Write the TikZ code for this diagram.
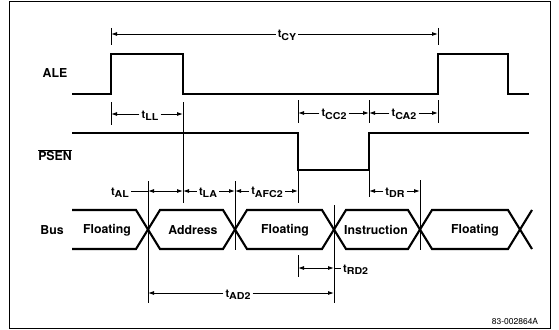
\documentclass[tikz,border=0pt]{standalone}
\usepackage{fontspec}
\usepackage{graphicx}
\setmainfont{TeX Gyre Heros}
\usetikzlibrary{arrows.meta}
\newcommand\tsub[1]{{\fontsize{11}{12}\selectfont t}\raisebox{-2.4pt}{\fontsize{9.5}{10}\selectfont\scalebox{1.12}[1]{#1}}}
\begin{document}
\begin{tikzpicture}[x=1pt,y=-1pt,
  sig/.style={line width=2.1pt, line join=miter},
  thinl/.style={line width=0.9pt},
  arr/.style={line width=0.9pt,-{Latex[length=6pt,width=4pt]}},
  dim/.style={line width=0.9pt,{Latex[length=6pt,width=4pt]}-{Latex[length=6pt,width=4pt]}},
  lbl/.style={font=\fontsize{12.3}{14}\selectfont\bfseries, inner sep=0pt},
  tl/.style={font=\bfseries, inner xsep=2pt, inner ysep=1pt, yshift=-1.5pt},
]
\useasboundingbox (0,0) rectangle (559,329);
\draw[line width=0.8pt] (9,1) rectangle (550,328);

% signal names
\node[lbl] (ale) at (55,73) {ALE};
\node[lbl] (psen) at (55,155) {$\overline{\mbox{PSEN}}$};
\node[lbl] (bus) at (52,230) {Bus};

% ALE and PSEN waveforms
\draw[sig] (72,94) -- (111,94) -- (111,54) -- (183,54) -- (183,94) -- (438,94) -- (438,54) -- (508,54) -- (508,94) -- (529,94);
\draw[sig] (72,133) -- (298,133) -- (298,170) -- (369,170) -- (369,133) -- (529,133);

% Bus
\draw[sig] (72,210) -- (136,210) -- (148,229.5) -- (136,249) -- (72,249);
\draw[sig] (148,229.5) -- (160,210) -- (223,210) -- (235,229.5) -- (223,249) -- (160,249) -- cycle;
\draw[sig] (235,229.5) -- (247,210) -- (322,210) -- (334,229.5) -- (322,249) -- (247,249) -- cycle;
\draw[sig] (334,229.5) -- (346,210) -- (408,210) -- (420,229.5) -- (408,249) -- (346,249) -- cycle;
\draw[sig] (420,229.5) -- (432,210) -- (508,210) -- (520,229.5) -- (508,249) -- (432,249) -- cycle;
\draw[sig] (532,210) -- (520,229.5) -- (532,249);

\node[lbl] (f1) at (107,230) {Floating};
\node[lbl] (ad) at (193,230) {Address};
\node[lbl] (f2) at (285,230) {Floating};
\node[lbl] (in) at (376,230) {Instruction};
\node[lbl] (f3) at (475,230) {Floating};

% reference lines
\draw[thinl] (111,28) -- (111,45);
\draw[thinl] (438,28) -- (438,45);
\draw[thinl] (111,102) -- (111,125);
\draw[thinl] (183,102) -- (183,203);
\draw[thinl] (298,100) -- (298,123);
\draw[thinl] (369,100) -- (369,123);
\draw[thinl] (438,100) -- (438,123);
\draw[thinl] (298,170) -- (298,203);
\draw[thinl] (369,170) -- (369,197);
\draw[thinl] (148,181) -- (148,303);
\draw[thinl] (235,181) -- (235,250);
\draw[thinl] (334,205) -- (334,303);
\draw[thinl] (420,180) -- (420,250);
\draw[thinl] (298,255) -- (298,277);

% tick coordinates
\coordinate (cyL) at (111,34);  \coordinate (cyR) at (438,34);
\coordinate (llL) at (111,114); \coordinate (llR) at (183,114);
\coordinate (ccL) at (298,113); \coordinate (ccR) at (369,113);
\coordinate (caL) at (369,113); \coordinate (caR) at (438,113);
\coordinate (alL) at (148,191); \coordinate (alR) at (183,191);
\coordinate (laL) at (183,191); \coordinate (laR) at (235,191);
\coordinate (afL) at (235,191); \coordinate (afR) at (298,191);
\coordinate (drL) at (369,191); \coordinate (drR) at (420,191);
\coordinate (rdL) at (298,268); \coordinate (rdR) at (334,268);
\coordinate (adL) at (148,293); \coordinate (adR) at (334,293);

% timing labels
\node[tl] (tcy) at (287,34) {\tsub{CY}};
\node[tl] (tll) at (150,114) {\tsub{LL}};
\node[tl] (tcc) at (334,113) {\tsub{CC2}};
\node[tl] (tca) at (404,113) {\tsub{CA2}};
\node[tl] (tal) at (120,191) {\tsub{AL}};
\node[tl] (tla) at (208,191) {\tsub{LA}};
\node[tl] (taf) at (267,191) {\tsub{AFC2}};
\node[tl] (tdr) at (395,191) {\tsub{DR}};
\node[tl,anchor=west] (trd) at (341,268) {\tsub{RD2}};
\node[tl] (tad) at (238,293) {\tsub{AD2}};

% timing arrows
\draw[arr] (tcy.west |- cyL) -- (cyL);
\draw[arr] (tcy.east |- cyR) -- (cyR);
\draw[arr] (tll.west |- llL) -- (llL);
\draw[arr] (tll.east |- llR) -- (llR);
\draw[arr] (tcc.west |- ccL) -- (ccL);
\draw[arr] (tcc.east |- ccR) -- (ccR);
\draw[arr] (tca.west |- caL) -- (caL);
\draw[arr] (tca.east |- caR) -- (caR);
\draw[thinl] (tal.east |- alL) -- (alL);
\draw[dim] (alL) -- (alR);
\draw[arr] (tla.west |- laL) -- (laL);
\draw[arr] (tla.east |- laR) -- (laR);
\draw[arr] (taf.west |- afL) -- (afL);
\draw[arr] (taf.east |- afR) -- (afR);
\draw[arr] (tdr.west |- drL) -- (drL);
\draw[arr] (tdr.east |- drR) -- (drR);
\draw[dim] (rdL) -- (rdR);
\draw[thinl] (rdR) -- (trd.west |- rdR);
\draw[arr] (tad.west |- adL) -- (adL);
\draw[arr] (tad.east |- adR) -- (adR);

\node[font=\fontsize{8.5}{10}\selectfont, inner sep=0pt] (code) at (515,321) {83-002864A};
\end{tikzpicture}
\end{document}
